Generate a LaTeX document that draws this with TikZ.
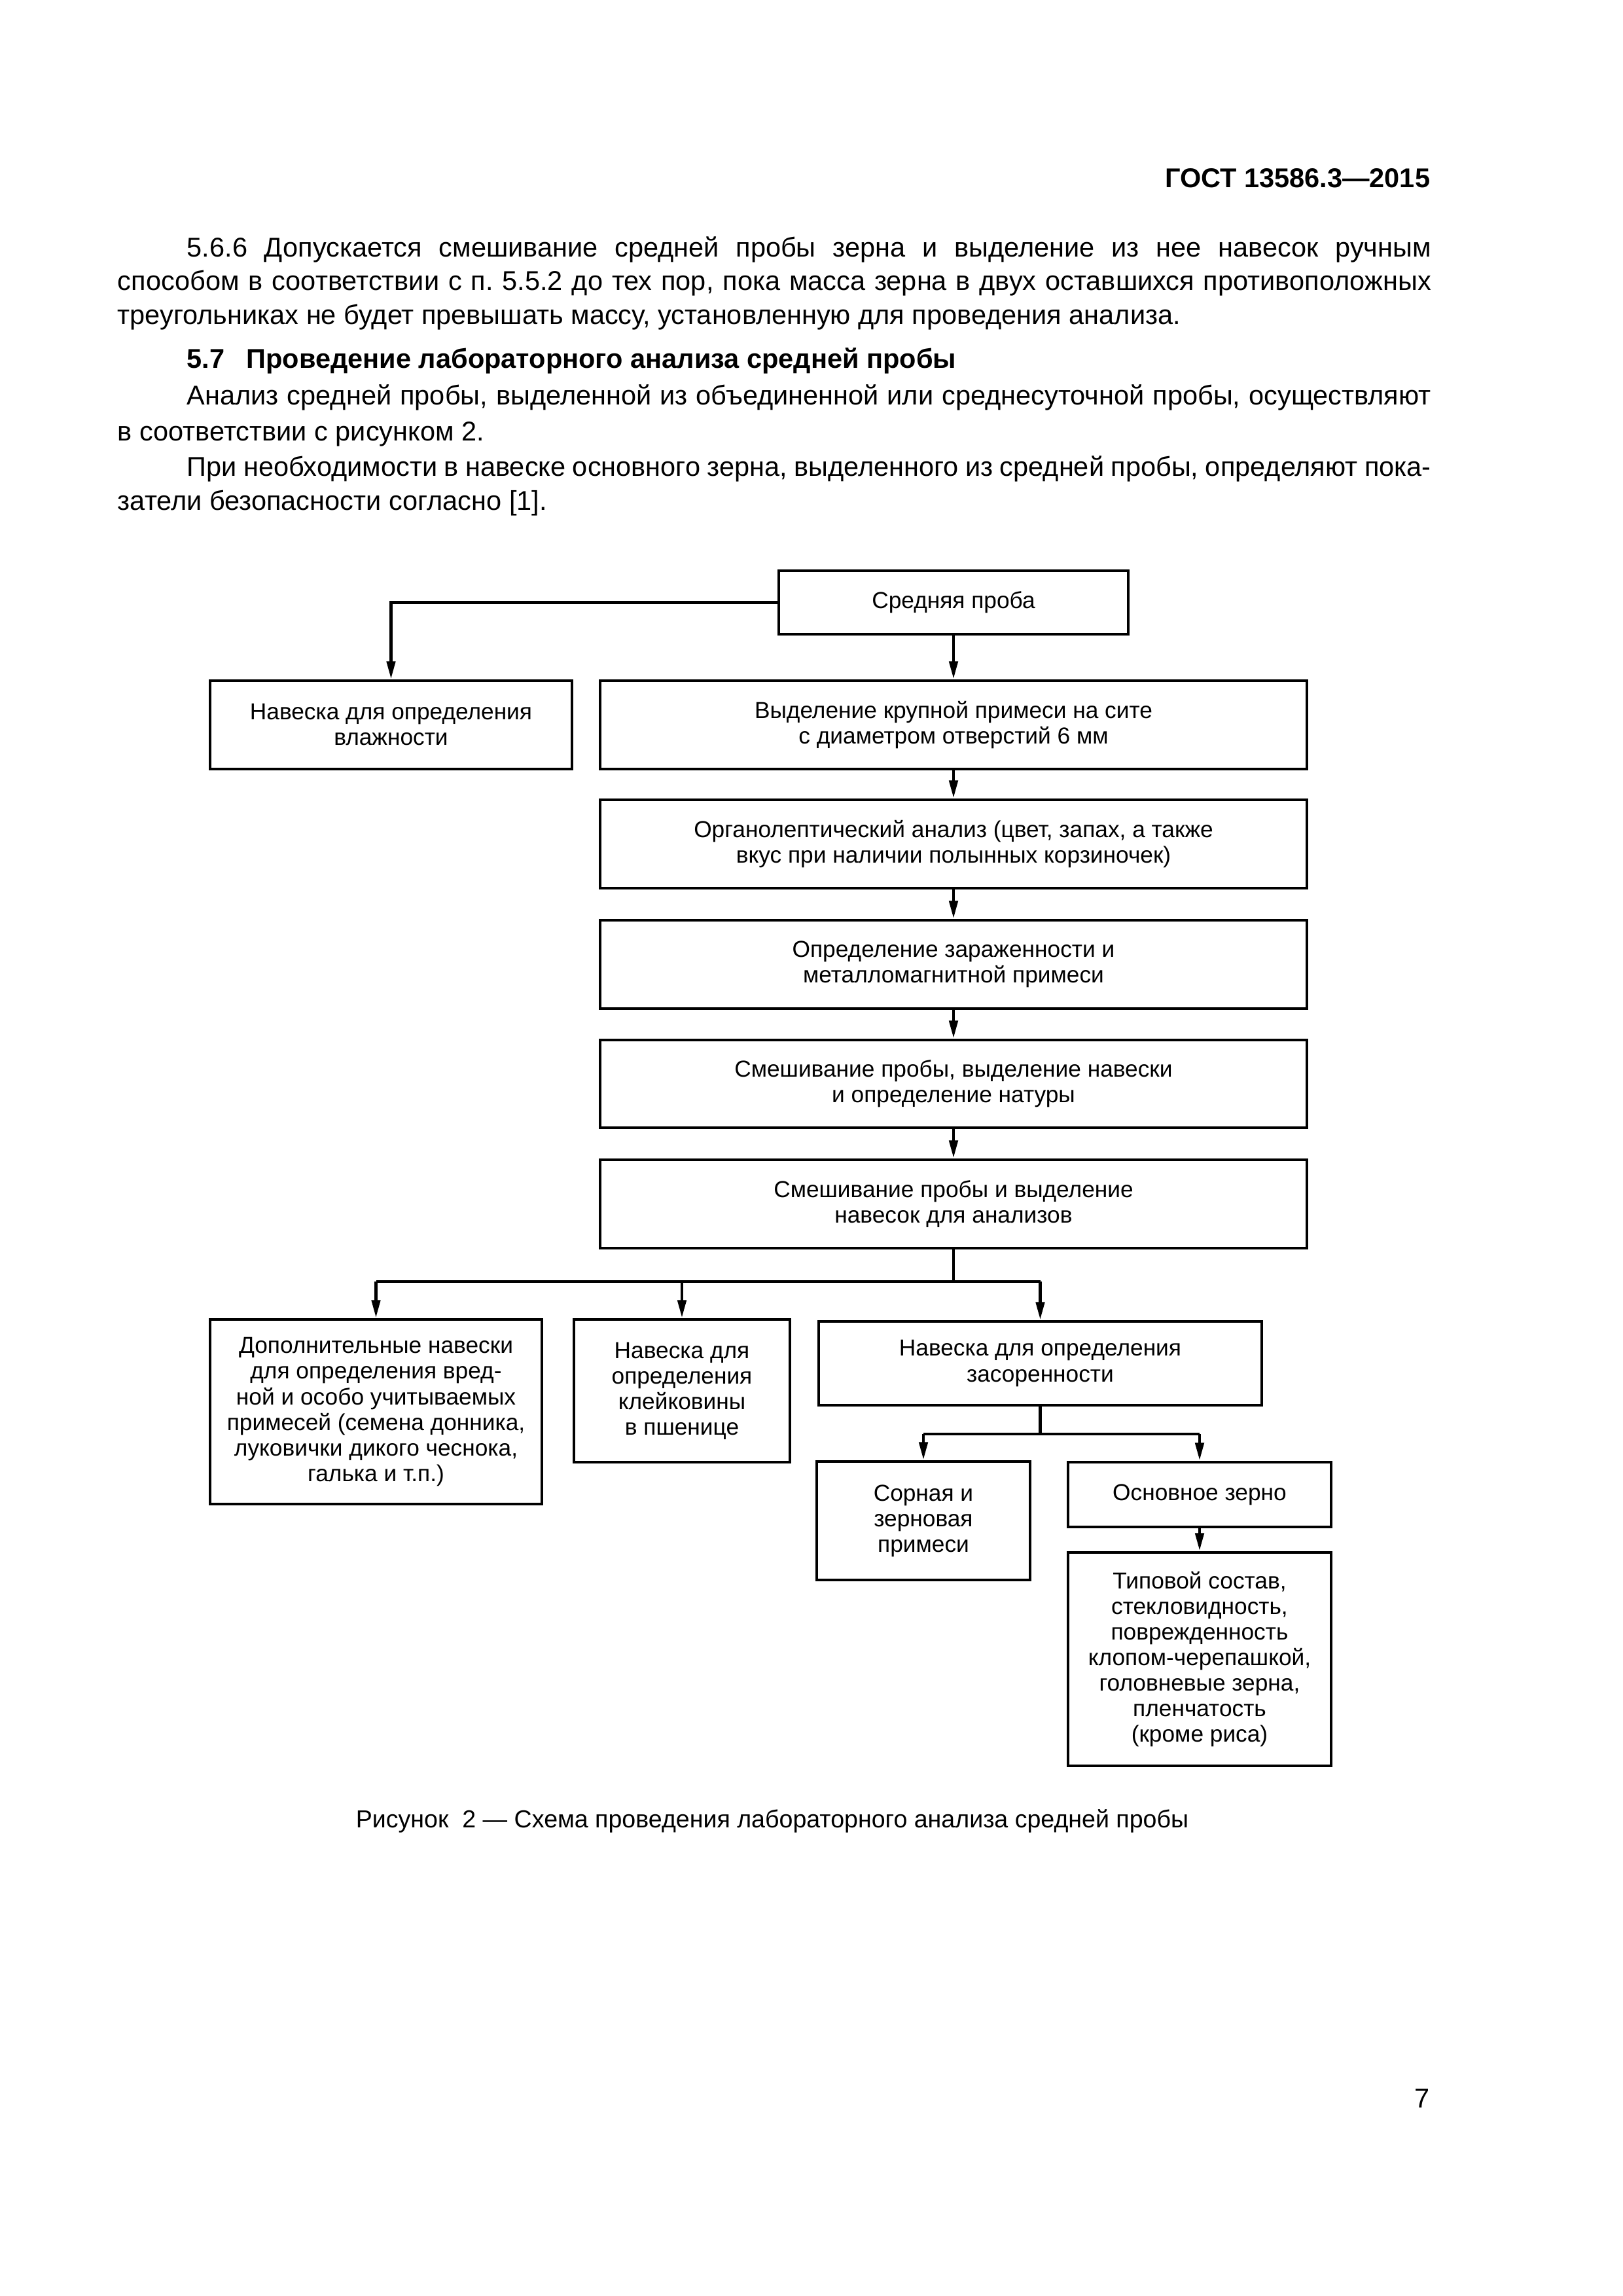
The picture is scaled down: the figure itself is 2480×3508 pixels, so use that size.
\documentclass[tikz,border=0pt]{standalone}
\usepackage{fontspec}
\setmainfont{Liberation Sans}
\usetikzlibrary{arrows.meta}
\newlength\pxu
\setlength\pxu{0.084677mm}
\newcommand\bodyfont{\fontsize{10}{12}\selectfont}
\newcommand\boxfont{\fontsize{8.5}{9.4}\selectfont}
% \bx{name}{x1}{y1}{x2}{y2}{text}
\newcommand\bx[6]{\node[bx, minimum width={(#4-#2)*\pxu}, minimum height={(#5-#3)*\pxu}] (#1) at ({(#2+#4)/2},{(#3+#5)/2}) {#6};}
\begin{document}
\frenchspacing
\begin{tikzpicture}[x=0.084677mm, y=-0.084677mm,
  bx/.style={draw, line width=1.15pt, rectangle, inner sep=2pt, align=center, font=\boxfont},
  conn/.style={line width=1.1pt},
  arr/.style={line width=1.1pt, -{Triangle[length=2.3mm,width=1.1mm]}},
  body/.style={anchor=base west, inner sep=0pt, font=\bodyfont}]
\useasboundingbox (0,0) rectangle (2480,3508);
\fill[white] (0,0) rectangle (2480,3508);

% header
\node[anchor=base east, inner sep=0pt, font=\bfseries\bodyfont] (hdr) at (2186,286) {ГОСТ 13586.3—2015};

% body text
\node[body] (t1) at (285,392) {\makebox[1901\pxu][s]{5.6.6 Допускается смешивание средней пробы зерна и выделение из нее навесок ручным}};
\node[body] (t2) at (179,443) {\makebox[2007\pxu][s]{способом в соответствии с п. 5.5.2 до тех пор, пока масса зерна в двух оставшихся противоположных}};
\node[body] (t3) at (179,495) {треугольниках не будет превышать массу, установленную для проведения анализа.};
\node[body, font=\bfseries\bodyfont] (t4) at (285,562) {5.7\hspace{0.8em}Проведение лабораторного анализа средней пробы};
\node[body] (t5) at (285,618) {\makebox[1901\pxu][s]{Анализ средней пробы, выделенной из объединенной или среднесуточной пробы, осуществляют}};
\node[body] (t6) at (179,673) {в соответствии с рисунком 2.};
\node[body] (t7) at (285,727) {\makebox[1901\pxu][s]{При необходимости в навеске основного зерна, выделенного из средней пробы, определяют пока-}};
\node[body] (t8) at (179,779) {затели безопасности согласно [1].};

% boxes
\bx{b1}{1190}{872}{1724}{969}{Средняя проба}
\bx{b2}{321}{1040}{874}{1175}{Навеска для определения\\влажности}
\bx{b3}{917}{1040}{1997}{1175}{Выделение крупной примеси на сите\\с диаметром отверстий 6 мм}
\bx{b4}{917}{1222}{1997}{1357}{Органолептический анализ (цвет, запах, а также\\вкус при наличии полынных корзиночек)}
\bx{b5}{917}{1406}{1997}{1541}{Определение зараженности и\\металломагнитной примеси}
\bx{b6}{917}{1589}{1997}{1723}{Смешивание пробы, выделение навески\\и определение натуры}
\bx{b7}{917}{1772}{1997}{1907}{Смешивание пробы и выделение\\навесок для анализов}
\bx{b8}{321}{2016}{828}{2298}{Дополнительные навески\\для определения вред-\\ной и особо учитываемых\\примесей (семена донника,\\луковички дикого чеснока,\\галька и т.п.)}
\bx{b9}{877}{2016}{1207}{2234}{Навеска для\\определения\\клейковины\\в пшенице}
\bx{b10}{1251}{2019}{1928}{2147}{Навеска для определения\\засоренности}
\bx{b11}{1248}{2233}{1574}{2414}{Сорная и\\зерновая\\примеси}
\bx{b12}{1632}{2234}{2034}{2333}{Основное зерно}
\bx{b13}{1632}{2372}{2034}{2698}{Типовой состав,\\стекловидность,\\поврежденность\\клопом-черепашкой,\\головневые зерна,\\пленчатость\\(кроме риса)}

% connectors
\draw[arr] (b1.west) -| (b2.north);
\draw[arr] (b1.south) -- (b3.north);
\draw[arr] (b3.south) -- (b4.north);
\draw[arr] (b4.south) -- (b5.north);
\draw[arr] (b5.south) -- (b6.north);
\draw[arr] (b6.south) -- (b7.north);

\coordinate (bus1) at (0,1958);
\draw[conn] (b7.south) -- (b7.south |- bus1);
\draw[conn] (b8.north |- bus1) -- (b10.north |- bus1);
\draw[arr] (b8.north |- bus1) -- (b8.north);
\draw[arr] (b9.north |- bus1) -- (b9.north);
\draw[arr] (b10.north |- bus1) -- (b10.north);

\coordinate (bus2) at (0,2191);
\draw[conn] (b10.south) -- (b10.south |- bus2);
\draw[conn] (b11.north |- bus2) -- (b12.north |- bus2);
\draw[arr] (b11.north |- bus2) -- (b11.north);
\draw[arr] (b12.north |- bus2) -- (b12.north);
\draw[arr] (b12.south) -- (b13.north);

% caption
\node[anchor=base west, inner sep=0pt, font=\fontsize{9.05}{11}\selectfont] (cap) at (543,2792) {Рисунок\ \ 2 — Схема проведения лабораторного анализа средней пробы};

% page number
\node[anchor=base west, inner sep=0pt, font=\bodyfont] (pg) at (2161,3220) {7};
\end{tikzpicture}
\end{document}
